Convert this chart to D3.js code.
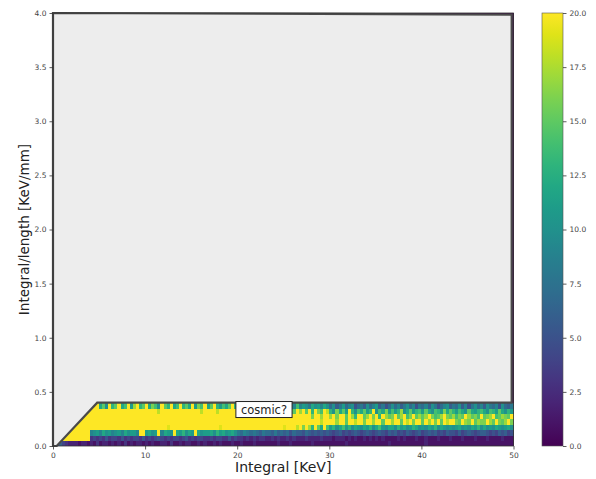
<!DOCTYPE html>
<html>
<head>
<meta charset="utf-8">
<script src="https://cdn.jsdelivr.net/npm/d3@7"></script>
<style>
  body { margin: 0; background: #fff; }
  svg { font-family: "DejaVu Sans", sans-serif; }
</style>
</head>
<body>
<svg id="chart" width="596" height="479"></svg>
<script>
// histogram range / binning
const xDomain = [0, 50];
const yDomain = [0, 4];
const xBins = 150;
const yBins = 80;

// counts per bin, one string per y-bin (bottom row first), one char per x-bin
// "0".."9" -> 0..9, "a".."k" -> 10..20 ; rows above the last one are empty
const countRows = [
  ["0564322212", "2121312212", "1213121221", "2121122131", "1212211212", "1121211121", "1211121111", "1112111211", "1111211111", "1111121111", "1111111112", "1111111111", "1211111111", "1111111111", "1111111111"],
  ["kkkkkkkkkk", "kk34343534", "4353434435", "3434543434", "4345343443", "3434433534", "3323232332", "2323223232", "2232222322", "2122212121", "1212121211", "1121211121", "1211121112", "1112111211", "1211112111"],
  ["kkkkkkkkkk", "kk9ab9cab9", "ab9cabb9kk", "bcabk9cbak", "cbdacbkcab", "bcadbcabca", "8798787687", "7686767576", "6576565656", "5456454565", "4565456546", "5645465456", "4565645465", "5464565456", "6545465645"],
  ["kkkkkkkkkk", "kkkkkkkkkk", "kkkkkkkkkk", "kkkkkkkjkk", "kkkkkkkkkk", "kkkkjkkkkk", "kkkkkkkkkk", "kkkkkjkkki", "kgkhdkfcke", "bdacebdacb", "acbdacebac", "cadbcabdca", "bacbdacbab", "abcabacbda", "cabacbabca"],
  ["kkkkkkkkkk", "kkkkkkkkkk", "kkkkkkkkkk", "kkkkkkkkkk", "kkkkkkkkkk", "kkkkkkkkkk", "kkkkkkkkkk", "kkkkkkkkkk", "kkkkkkkikk", "kkhkkfkkik", "kgkkhkkfkk", "hkkfkikgkk", "fkhkgkfkik", "kgfkhgkfhg", "gkhfkgfhkg"],
  ["kkkkkkkkkk", "kkkkkkkkkk", "kkkkkkkkkk", "kkkkkkkkkk", "kkkkkkkkkk", "kkkkkkkkkk", "kkkkkkkkkk", "kkkkkkkkkk", "kkkkgkkhkk", "hkgkkfkhdk", "kfhkgkdkhf", "gkfhkegkfh", "fhkgefhkgf", "hegfkhfgek", "fghkefhgfk"],
  ["kkkkkkkkkk", "kkkkkkkkkk", "kkkkkkkkkk", "kkkkikkkkk", "kkkkkkkkik", "kkkikkkkkk", "kkikkgkkkk", "kgkkikhkfk", "hkfkdkgeki", "dagcfbkdae", "cfbdkaecgb", "ebdhacfbde", "bfcaedbgcf", "dbecafcbde", "caedbfcadb"],
  ["kkkkkkkkkk", "kkkkkcfakd", "fkcekbhkdf", "kcgeakfdkc", "ekdfckbgek", "cfkdbecfkd", "bdaecbfadc", "acb9dacb9e", "9ba8cab9ca", "7a68b79a57", "86a79b6857", "a7968a7958", "796a8579a6", "87a6958a79", "6a8795a768"]
].map(chunks => chunks.join(""));

// selection polygon drawn over the histogram
const cutRegion = [[0, 4], [49.8, 3.985], [49.8, 0.4], [4.8, 0.4], [0.4, 0], [0, 0]];

const xTicks = [0, 10, 20, 30, 40, 50];
const yTicks = [0, 0.5, 1, 1.5, 2, 2.5, 3, 3.5, 4];
const cbarTicks = [0, 2.5, 5, 7.5, 10, 12.5, 15, 17.5, 20];
const cbarDomain = [0, 20];
const label = { text: "cosmic?", x: 20.4, y: 0.3 };

const digits = "0123456789abcdefghijk";

const svg = d3.select("#chart");
const plot = { left: 53, right: 513.5, top: 13, bottom: 446 };
const cbar = { left: 542, right: 563 };

const x = d3.scaleLinear().domain(xDomain).range([plot.left, plot.right]);
const y = d3.scaleLinear().domain(yDomain).range([plot.bottom, plot.top]);
const color = d3.scaleSequential(d3.interpolateViridis).domain(cbarDomain).clamp(true);

// build the full grid and merge equal runs per row
const binW = (xDomain[1] - xDomain[0]) / xBins;
const binH = (yDomain[1] - yDomain[0]) / yBins;
const cells = [];
for (let r = 0; r < yBins; r++) {
  const row = r < countRows.length
    ? Array.from(countRows[r], c => digits.indexOf(c))
    : new Array(xBins).fill(0);
  let start = 0;
  for (let i = 1; i <= xBins; i++) {
    if (i === xBins || row[i] !== row[start]) {
      cells.push({ r, i0: start, i1: i, v: row[start] });
      start = i;
    }
  }
}

svg.append("g")
  .attr("shape-rendering", "crispEdges")
  .selectAll("rect")
  .data(cells)
  .join("rect")
  .attr("x", d => x(d.i0 * binW))
  .attr("width", d => x(d.i1 * binW) - x(d.i0 * binW) + 0.4)
  .attr("y", d => y((d.r + 1) * binH))
  .attr("height", d => y(d.r * binH) - y((d.r + 1) * binH) + 0.4)
  .attr("fill", d => color(d.v));

svg.append("path")
  .datum(cutRegion)
  .attr("d", d3.line().x(d => x(d[0])).y(d => y(d[1])).curve(d3.curveLinearClosed))
  .attr("fill", "#ededed")
  .attr("stroke", "#4a4a4a")
  .attr("stroke-width", 2.2)
  .attr("stroke-linejoin", "miter");

// annotation with box
const ann = svg.append("g");
const annText = ann.append("text")
  .attr("x", x(label.x))
  .attr("y", y(label.y))
  .attr("font-size", 11.5)
  .attr("fill", "#222")
  .text(label.text);
const bb = annText.node().getBBox();
ann.insert("rect", "text")
  .attr("x", bb.x - 5)
  .attr("y", bb.y - 1)
  .attr("width", bb.width + 10)
  .attr("height", bb.height + 2)
  .attr("fill", "#fff")
  .attr("stroke", "#222")
  .attr("stroke-width", 1);

// axes
const styleAxis = g => {
  g.select(".domain").remove();
  g.selectAll(".tick line").attr("stroke", "#333").attr("stroke-width", 0.8);
  g.selectAll(".tick text").attr("fill", "#444").attr("font-size", 7.5)
    .attr("font-family", "DejaVu Sans, sans-serif");
};

svg.append("g")
  .attr("transform", `translate(0,${plot.bottom})`)
  .call(d3.axisBottom(x).tickValues(xTicks).tickSize(3.5).tickPadding(3).tickFormat(d3.format("d")))
  .call(styleAxis);

svg.append("g")
  .attr("transform", `translate(${plot.left},0)`)
  .call(d3.axisLeft(y).tickValues(yTicks).tickSize(3.5).tickPadding(3).tickFormat(d3.format(".1f")))
  .call(styleAxis);

svg.append("rect")
  .attr("x", plot.left).attr("y", plot.top)
  .attr("width", plot.right - plot.left).attr("height", plot.bottom - plot.top)
  .attr("fill", "none").attr("stroke", "#333").attr("stroke-width", 0.8);

svg.append("text")
  .attr("x", (plot.left + plot.right) / 2)
  .attr("y", 472)
  .attr("text-anchor", "middle")
  .attr("font-size", 14)
  .attr("fill", "#222")
  .text("Integral [KeV]");

svg.append("text")
  .attr("transform", `translate(29,${(plot.top + plot.bottom) / 2}) rotate(-90)`)
  .attr("text-anchor", "middle")
  .attr("font-size", 13.5)
  .attr("fill", "#222")
  .text("Integral/length [KeV/mm]");

// colorbar
const cy = d3.scaleLinear().domain(cbarDomain).range([plot.bottom, plot.top]);
const grad = svg.append("defs").append("linearGradient")
  .attr("id", "cbar-grad")
  .attr("x1", 0).attr("y1", 1).attr("x2", 0).attr("y2", 0);
grad.selectAll("stop")
  .data(d3.range(0, 1.0001, 0.05))
  .join("stop")
  .attr("offset", d => d)
  .attr("stop-color", d => d3.interpolateViridis(d));

svg.append("rect")
  .attr("x", cbar.left).attr("y", plot.top)
  .attr("width", cbar.right - cbar.left).attr("height", plot.bottom - plot.top)
  .attr("fill", "url(#cbar-grad)")
  .attr("stroke", "#555").attr("stroke-width", 0.6);

svg.append("g")
  .attr("transform", `translate(${cbar.right},0)`)
  .call(d3.axisRight(cy).tickValues(cbarTicks).tickSize(3.5).tickPadding(3).tickFormat(d3.format(".1f")))
  .call(styleAxis);
</script>
</body>
</html>
